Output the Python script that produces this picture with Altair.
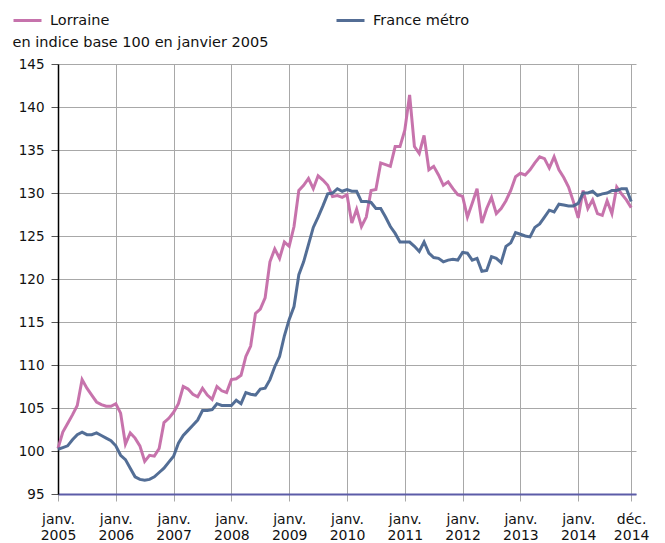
import altair as alt
import pandas as pd

# Monthly index values, Jan 2005 .. Dec 2014 (base 100 = Jan 2005)
lorraine = [
    100.3, 102.2, 103.2, 104.2, 105.3, 108.3, 107.3, 106.5, 105.7, 105.4, 105.2, 105.2,  # 2005
    105.5, 104.4, 100.8, 102.1, 101.5, 100.6, 98.8, 99.5, 99.4, 100.3, 103.3, 103.8,     # 2006
    104.5, 105.5, 107.5, 107.2, 106.6, 106.3, 107.3, 106.5, 106.0, 107.5, 107.0, 106.8,  # 2007
    108.3, 108.4, 108.8, 111.0, 112.2, 116.0, 116.5, 117.8, 122.0, 123.5, 122.4, 124.3,  # 2008
    123.8, 126.1, 130.3, 130.9, 131.7, 130.5, 132.0, 131.5, 130.9, 129.6, 129.7, 129.5,  # 2009
    129.8, 126.5, 128.1, 126.1, 127.2, 130.3, 130.4, 133.5, 133.3, 133.1, 135.4, 135.4,  # 2010
    137.3, 141.4, 135.4, 134.6, 136.7, 132.7, 133.1, 132.1, 130.9, 131.3, 130.5, 129.8,  # 2011
    129.6, 127.2, 128.8, 130.5, 126.5, 128.2, 129.5, 127.6, 128.2, 129.1, 130.3, 131.9,  # 2012
    132.3, 132.1, 132.7, 133.5, 134.2, 134.0, 132.9, 134.2, 132.7, 131.8, 130.7, 129.0,  # 2013
    127.1, 130.3, 128.2, 129.2, 127.6, 127.4, 129.1, 127.6, 130.7, 129.9, 129.2, 128.3,  # 2014
]
france = [
    100.2, 100.4, 100.6, 101.3, 101.9, 102.2, 101.9, 101.9, 102.1, 101.8, 101.5, 101.2,  # 2005
    100.6, 99.5, 99.0, 98.0, 97.0, 96.7, 96.6, 96.7, 97.0, 97.5, 98.0, 98.7,             # 2006
    99.4, 100.9, 101.8, 102.4, 103.0, 103.6, 104.7, 104.7, 104.8, 105.5, 105.3, 105.3,   # 2007
    105.3, 105.9, 105.5, 106.8, 106.6, 106.5, 107.2, 107.3, 108.3, 109.8, 111.0, 113.4,  # 2008
    115.3, 116.8, 120.5, 122.0, 124.0, 126.0, 127.2, 128.5, 129.9, 130.0, 130.5, 130.2,  # 2009
    130.4, 130.2, 130.2, 129.0, 129.0, 128.9, 128.2, 128.2, 127.2, 126.1, 125.3, 124.3,  # 2010
    124.3, 124.3, 123.8, 123.2, 124.3, 123.0, 122.5, 122.4, 122.0, 122.2, 122.3, 122.2,  # 2011
    123.1, 123.0, 122.2, 122.4, 120.9, 121.0, 122.6, 122.4, 121.9, 123.8, 124.2, 125.4,  # 2012
    125.2, 125.0, 124.9, 126.0, 126.4, 127.2, 128.0, 127.8, 128.7, 128.6, 128.5, 128.5,  # 2013
    128.8, 130.0, 130.0, 130.2, 129.7, 129.9, 130.0, 130.3, 130.3, 130.5, 130.5, 129.0,  # 2014
]
series_names = ["Lorraine", "France métro"]
series_colors = ["#c46ca8", "#4a6690"]

tick_positions = [0, 12, 24, 36, 48, 60, 72, 84, 96, 108, 119]
tick_labels = ["janv.|2005", "janv.|2006", "janv.|2007", "janv.|2008", "janv.|2009",
               "janv.|2010", "janv.|2011", "janv.|2012", "janv.|2013", "janv.|2014",
               "déc.|2014"]
y_ticks = [95, 100, 105, 110, 115, 120, 125, 130, 135, 140, 145]

rows = []
for name, vals in zip(series_names, [lorraine, france]):
    for i, v in enumerate(vals):
        rows.append({"mois": i, "serie": name, "valeur": v})
df = pd.DataFrame(rows)

expr = "''"
for p, lab in reversed(list(zip(tick_positions, tick_labels))):
    expr = f"datum.value == {p} ? '{lab}' : ({expr})"
label_expr = f"split({expr}, '|')"

FONT = "DejaVu Sans"

chart = alt.Chart(df).mark_line(strokeWidth=3, opacity=0.95).encode(
    x=alt.X("mois:Q",
            scale=alt.Scale(domain=[0, 120], nice=False, zero=False),
            axis=alt.Axis(values=tick_positions, labelExpr=label_expr, title=None,
                          grid=True, gridColor="#a8a8a8", gridWidth=1,
                          domainColor="#5c5ca8", domainWidth=2,
                          tickColor="#a8a8a8", tickSize=7,
                          labelPadding=11, labelLineHeight=16, labelBaseline="top",
                          labelFontSize=14, labelColor="#111", labelFont=FONT,
                          labelFlush=False, labelOverlap=False)),
    y=alt.Y("valeur:Q",
            scale=alt.Scale(domain=[95, 145], nice=False, zero=False),
            axis=alt.Axis(values=y_ticks, title="en indice base 100 en janvier 2005",
                          titleAngle=0, titleX=-46, titleY=-18, titleAlign="left",
                          titleBaseline="alphabetic", titleFontSize=14.5,
                          titleFontWeight="normal", titleFont=FONT, titleColor="#111",
                          grid=True, gridColor="#a8a8a8", gridWidth=1,
                          domainColor="#000", domainWidth=1.5,
                          tickColor="#555", tickSize=7, labelPadding=7,
                          labelFontSize=13.5, labelColor="#111", labelFont=FONT)),
    color=alt.Color("serie:N",
                    scale=alt.Scale(domain=series_names, range=series_colors),
                    sort=series_names,
                    legend=alt.Legend(title=None, orient="none", direction="horizontal",
                                      legendX=-46, legendY=-59,
                                      symbolType="stroke", symbolSize=784,
                                      symbolStrokeWidth=3, labelFontSize=14.5,
                                      labelFont=FONT, labelColor="#111",
                                      columnPadding=220, labelOffset=7)),
).properties(
    width=578, height=430,
    autosize=alt.AutoSizeParams(type="none"),
    padding={"left": 50, "top": 56, "right": 20, "bottom": 50},
).configure_view(stroke=None).configure_axis(domainCap="butt")

chart.save("out.html", embed_options={"renderer": "svg", "actions": False})
